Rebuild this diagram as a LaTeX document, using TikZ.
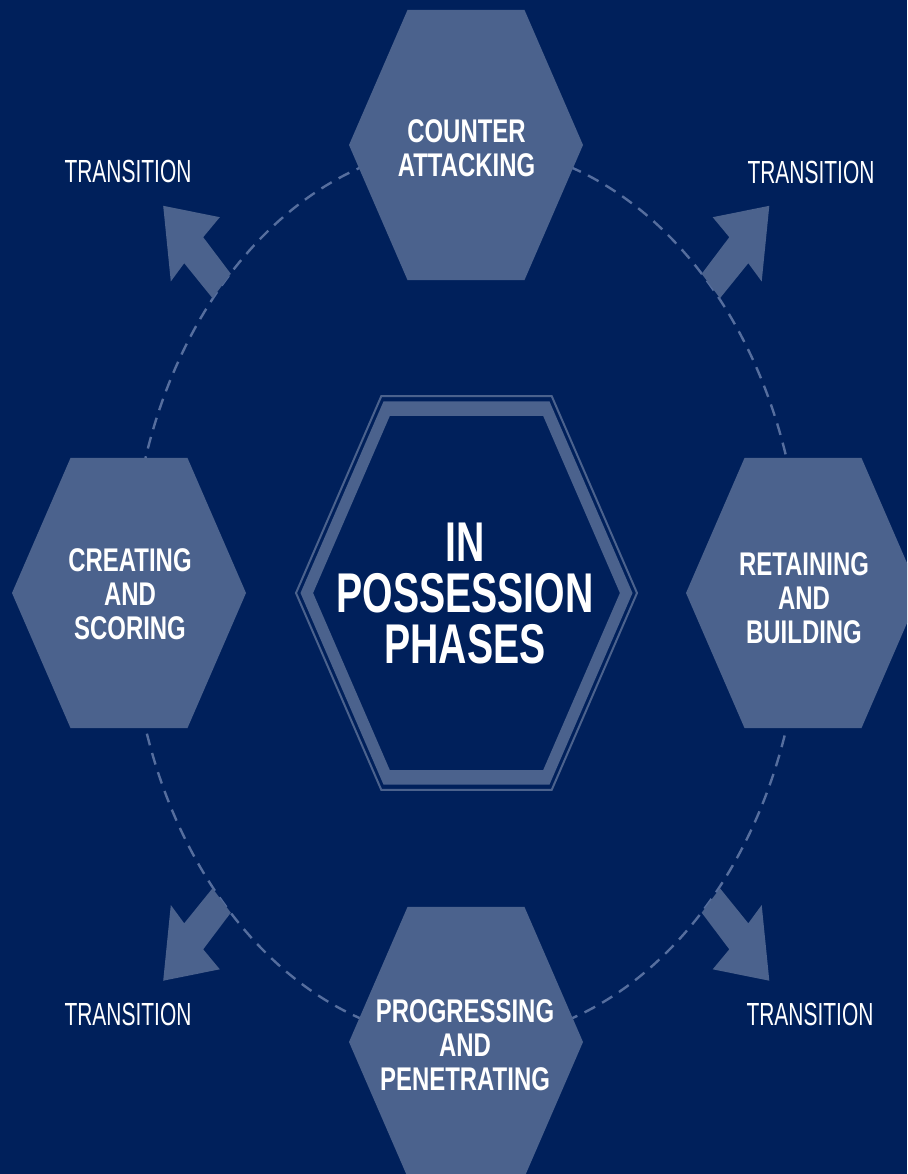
\documentclass[tikz,border=0pt]{standalone}
\usepackage{fontspec}
\setmainfont{Liberation Sans}
\newfontfamily\phasefont{Liberation Sans}[FakeStretch=0.73]
\newfontfamily\corefont{Liberation Sans}[FakeStretch=0.70]
\newfontfamily\transfont{Liberation Sans}[FakeStretch=0.655]

\definecolor{navy}{HTML}{00205B}
\definecolor{slate}{HTML}{4B628D}
\definecolor{ringblue}{HTML}{566E9E}

% Stretched flat-topped hexagon: centre (#1,#2), half width #3
\newcommand\hexpath[3]{(#1-#3,#2) -- (#1-0.5*#3,#2-1.154*#3) -- (#1+0.5*#3,#2-1.154*#3) -- (#1+#3,#2) -- (#1+0.5*#3,#2+1.154*#3) -- (#1-0.5*#3,#2+1.154*#3) -- cycle}

\tikzset{
  phasehex/.style={fill=slate},
  phaselabel/.style={text=white, align=center, inner sep=0pt,
    font=\phasefont\bfseries\fontsize{32.8}{34}\selectfont},
  corelabel/.style={text=white, align=center, inner sep=0pt,
    font=\corefont\bfseries\fontsize{56}{51}\selectfont},
  translabel/.style={text=white, inner sep=0pt,
    font=\transfont\fontsize{32}{34}\selectfont},
  transarrow/.style={fill=slate},
  cycleline/.style={draw=ringblue, line width=2.4pt, dash pattern=on 12pt off 8pt}
}

\begin{document}
\begin{tikzpicture}[x=1pt, y=-1pt]
  \useasboundingbox (0,0) rectangle (907,1174);
  \clip (0,0) rectangle (907,1174);
  \fill[navy] (0,0) rectangle (907,1174);

  % dashed cycle behind the phases
  \draw[cycleline] (466,593) ellipse [x radius=336pt, y radius=448pt];

  % four phase hexagons
  \fill[phasehex] \hexpath{466}{145}{117};
  \fill[phasehex] \hexpath{129}{593}{117};
  \fill[phasehex] \hexpath{803}{593}{117};
  \fill[phasehex] \hexpath{466}{1042}{117};

  % central hexagon: thin outline and thick band
  \draw[slate, line width=2pt, line join=miter] \hexpath{466.5}{593}{170.5};
  \fill[slate, even odd rule] \hexpath{466.5}{593}{166} \hexpath{466.5}{593}{153.4};

  % transition arrows leaving the cycle
  \fill[transarrow] (163.2,205.8) -- (219.8,217.2) -- (203.2,237.2) -- (230.8,273.8)
    -- (212.5,298.2) -- (184.2,263.2) -- (170.8,281.5) -- cycle;
  \fill[transarrow] (769.3,205.8) -- (712.7,217.2) -- (729.3,237.2) -- (701.7,273.8)
    -- (720,298.2) -- (748.3,263.2) -- (761.7,281.5) -- cycle;
  \fill[transarrow] (163.2,980.7) -- (219.8,969.3) -- (203.2,949.3) -- (230.8,912.7)
    -- (212.5,888.3) -- (184.2,923.3) -- (170.8,905) -- cycle;
  \fill[transarrow] (769.3,980.7) -- (712.7,969.3) -- (729.3,949.3) -- (701.7,912.7)
    -- (720,888.3) -- (748.3,923.3) -- (761.7,905) -- cycle;

  % labels
  \node[corelabel] (core) at (465,594) {IN\\POSSESSION\\PHASES};
  \node[phaselabel] (counter) at (466.5,148) {COUNTER\\ATTACKING};
  \node[phaselabel] (creating) at (130,594) {CREATING\\AND\\SCORING};
  \node[phaselabel] (retaining) at (804,598) {RETAINING\\AND\\BUILDING};
  \node[phaselabel] (progressing) at (465,1045) {PROGRESSING\\AND\\PENETRATING};

  \node[translabel] (transTL) at (128,171.5) {TRANSITION};
  \node[translabel] (transTR) at (811,172) {TRANSITION};
  \node[translabel] (transBL) at (128,1014.5) {TRANSITION};
  \node[translabel] (transBR) at (810,1014.5) {TRANSITION};
\end{tikzpicture}
\end{document}
